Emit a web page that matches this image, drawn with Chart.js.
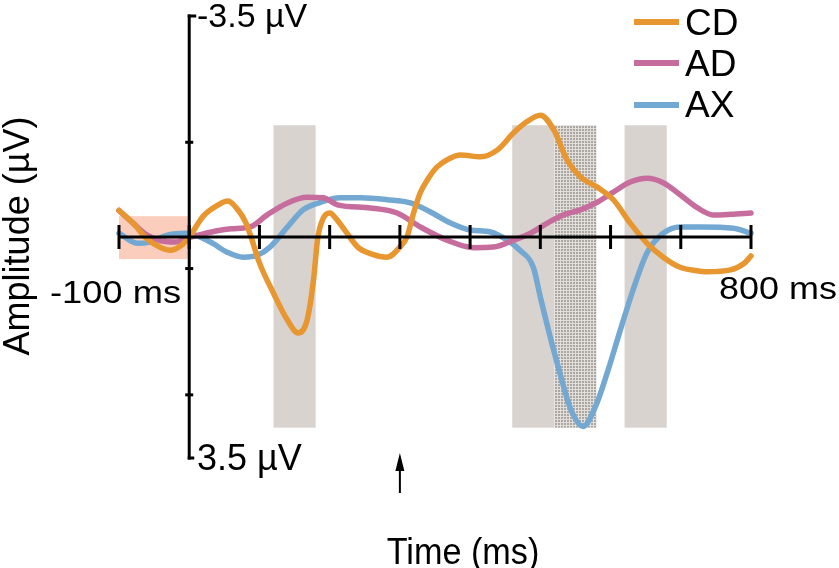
<!DOCTYPE html>
<html>
<head>
<meta charset="utf-8">
<script src="https://cdn.jsdelivr.net/npm/chart.js@4.4.1/dist/chart.umd.min.js"></script>
<style>
  html,body{margin:0;padding:0;background:#fff;}
  #wrap{width:839px;height:568px;position:relative;}
</style>
</head>
<body>
<div id="wrap"><canvas id="c"></canvas></div>
<script>
// ---- data (µV, negative plotted upward) ----
const cdTimes = [-100,-80,-60,-40,-27,-12,0,20,40,55,70,80,88,100,120,140,155,168,177,183,191,200,210,222,240,260,282,300,310,320,329,340,353,370,386,415,439,462,480,500,519,538,557,581,604,628,652,675,699,720,738,771,790,800];
const cdValues = [-0.42,-0.22,0.03,0.17,0.21,0.14,0.0,-0.33,-0.50,-0.57,-0.42,-0.24,0.0,0.41,0.89,1.32,1.52,1.31,0.68,0.02,-0.30,-0.38,-0.28,-0.10,0.16,0.27,0.32,0.16,0.0,-0.40,-0.70,-0.92,-1.11,-1.24,-1.30,-1.27,-1.38,-1.65,-1.82,-1.93,-1.70,-1.22,-0.95,-0.79,-0.59,-0.22,0.10,0.32,0.48,0.53,0.55,0.52,0.42,0.30];

const adTimes = [-100,-80,-60,-40,-20,0,20,40,60,87,111,140,168,191,211,258,296,329,367,405,433,462,486,510,533,557,581,604,628,652,675,699,724,746,771,800];
const adValues = [-0.42,-0.22,-0.03,0.06,0.08,0.01,-0.05,-0.10,-0.13,-0.16,-0.35,-0.54,-0.63,-0.62,-0.51,-0.46,-0.38,-0.16,0.05,0.17,0.16,0.05,-0.06,-0.22,-0.35,-0.43,-0.55,-0.71,-0.87,-0.93,-0.86,-0.67,-0.46,-0.35,-0.36,-0.38];

const axTimes = [-100,-74,-56,-31,-3,30,54,77,97,115,140,162,187,215,244,282,315,343,372,400,429,453,471,490,500,514,528,543,561,578,595,614,632,652,675,699,728,775,800];
const axValues = [-0.06,0.10,0.08,-0.03,-0.06,0.08,0.24,0.32,0.29,0.16,-0.16,-0.43,-0.55,-0.62,-0.62,-0.59,-0.54,-0.40,-0.22,-0.11,-0.08,0.05,0.21,0.48,0.95,1.58,2.16,2.72,3.00,2.70,2.16,1.47,0.84,0.25,-0.06,-0.16,-0.16,-0.14,-0.06];

const seriesLabels = ['CD','AD','AX'];
const xTickValues = [-100,0,100,200,300,400,500,600,700,800];
const yTickValues = [-1.5,0.5,2.5];
const yTopLabel = '-3.5 µV';
const yBottomLabel = '3.5 µV';
const xLeftLabel = '-100 ms';
const xRightLabel = '800 ms';
const xTitle = 'Time (ms)';
const yTitle = 'Amplitude (µV)';
const grayWindows = [[120,180],[460,520],[620,680]];
const dottedWindow = [520,580];
const windowAmp = [-1.77,3.02];
const baselineWindow = [-100,0];
const baselineAmp = [-0.33,0.35];
const stimulusTime = 300;

const colors = ['#e8962f','#c66d9d','#72a8d2'];

function toPts(ts, vs){ return ts.map((t,i)=>({x:t,y:vs[i]})); }

const FONT = '"Liberation Sans", Arial, Helvetica, sans-serif';

function makePattern(ctx){
  const p = document.createElement('canvas');
  p.width = 3; p.height = 3;
  const g = p.getContext('2d');
  g.fillStyle = '#e2deda'; g.fillRect(0,0,3,3);
  g.fillStyle = '#aba6a1'; g.fillRect(0,0,2,2);
  return ctx.createPattern(p,'repeat');
}

const decor = {
  id:'decor',
  beforeDatasetsDraw(chart){
    const ctx = chart.ctx, xs = chart.scales.x, ys = chart.scales.y;
    ctx.save();
    ctx.fillStyle = '#fbcdbd';
    let x0 = xs.getPixelForValue(baselineWindow[0]), x1 = xs.getPixelForValue(baselineWindow[1]);
    let y0 = ys.getPixelForValue(baselineAmp[0]), y1 = ys.getPixelForValue(baselineAmp[1]);
    ctx.fillRect(x0, y0, x1-x0, y1-y0);
    ctx.fillStyle = '#d8d3ce';
    const wy0 = ys.getPixelForValue(windowAmp[0]), wy1 = ys.getPixelForValue(windowAmp[1]);
    grayWindows.forEach(w=>{
      const a = xs.getPixelForValue(w[0]), b = xs.getPixelForValue(w[1]);
      ctx.fillRect(a, wy0, b-a, wy1-wy0);
    });
    ctx.fillStyle = makePattern(ctx);
    const da = xs.getPixelForValue(dottedWindow[0]), db = xs.getPixelForValue(dottedWindow[1]);
    ctx.fillRect(da, wy0, db-da, wy1-wy0);
    ctx.restore();
  },
  afterDatasetsDraw(chart){
    const ctx = chart.ctx, xs = chart.scales.x, ys = chart.scales.y;
    ctx.save();
    ctx.strokeStyle = '#000'; ctx.fillStyle = '#000';
    ctx.lineWidth = 3; ctx.lineCap = 'butt';
    const zy = ys.getPixelForValue(0), zx = xs.getPixelForValue(0);
    ctx.beginPath();
    ctx.moveTo(xs.getPixelForValue(xTickValues[0]), zy);
    ctx.lineTo(xs.getPixelForValue(xTickValues[xTickValues.length-1]), zy);
    ctx.stroke();
    xTickValues.forEach(t=>{
      const px = xs.getPixelForValue(t);
      ctx.beginPath(); ctx.moveTo(px, zy-12); ctx.lineTo(px, zy+12); ctx.stroke();
    });
    const yt = ys.getPixelForValue(-3.5), yb = ys.getPixelForValue(3.5);
    ctx.beginPath(); ctx.moveTo(zx, yt-1.5); ctx.lineTo(zx, yb+1.5); ctx.stroke();
    ctx.beginPath(); ctx.moveTo(zx-1.5, yt); ctx.lineTo(zx+7, yt); ctx.stroke();
    ctx.beginPath(); ctx.moveTo(zx-1.5, yb); ctx.lineTo(zx+5, yb); ctx.stroke();
    yTickValues.forEach(v=>{
      const py = ys.getPixelForValue(v);
      ctx.beginPath(); ctx.moveTo(zx-4, py); ctx.lineTo(zx+4, py); ctx.stroke();
    });
    const ax = xs.getPixelForValue(stimulusTime);
    ctx.lineWidth = 2;
    ctx.beginPath(); ctx.moveTo(ax, 493); ctx.lineTo(ax, 465); ctx.stroke();
    ctx.beginPath(); ctx.moveTo(ax, 453); ctx.lineTo(ax-4.5, 471); ctx.lineTo(ax+4.5, 471); ctx.closePath(); ctx.fill();
    ctx.textBaseline = 'alphabetic';
    ctx.textAlign = 'left';
    ctx.font = '34px ' + FONT;
    ctx.fillText(yTopLabel, 197, 27);
    ctx.font = '36px ' + FONT;
    ctx.fillText(yBottomLabel, 197, 470);
    ctx.font = '31px ' + FONT;
    ctx.save(); ctx.translate(50, 303); ctx.scale(1.17,1); ctx.fillText(xLeftLabel,0,0); ctx.restore();
    ctx.save(); ctx.translate(719, 299); ctx.scale(1.16,1); ctx.fillText(xRightLabel,0,0); ctx.restore();
    ctx.font = '36px ' + FONT;
    ctx.save(); ctx.translate(463, 564); ctx.scale(0.95,1); ctx.textAlign='center'; ctx.fillText(xTitle,0,0); ctx.restore();
    ctx.save(); ctx.translate(29, 236); ctx.rotate(-Math.PI/2); ctx.textAlign='center'; ctx.fillText(yTitle,0,0); ctx.restore();
    const ly = [22, 63, 105], lb = [35, 76, 117];
    ctx.font = '37px ' + FONT;
    chart.data.datasets.forEach((ds,i)=>{
      ctx.strokeStyle = ds.borderColor; ctx.lineWidth = 6;
      ctx.beginPath(); ctx.moveTo(634, ly[i]); ctx.lineTo(679, ly[i]); ctx.stroke();
      ctx.fillStyle = '#000';
      ctx.fillText(ds.label, 685, lb[i]);
    });
    ctx.restore();
  }
};

const chart = new Chart(document.getElementById('c'), {
  type:'line',
  data:{
    datasets:[
      {label:seriesLabels[0], data:toPts(cdTimes,cdValues), borderColor:colors[0]},
      {label:seriesLabels[1], data:toPts(adTimes,adValues), borderColor:colors[1]},
      {label:seriesLabels[2], data:toPts(axTimes,axValues), borderColor:colors[2]}
    ].map(d=>Object.assign(d,{borderWidth:5.5, pointRadius:0, fill:false, cubicInterpolationMode:'monotone', borderJoinStyle:'round', borderCapStyle:'round', clip:10}))
  },
  options:{
    responsive:true, maintainAspectRatio:false, animation:false,
    layout:{padding:{left:119, right:88, top:16, bottom:110}},
    scales:{
      x:{type:'linear', min:-100, max:800, display:false},
      y:{min:-3.5, max:3.5, reverse:true, display:false}
    },
    plugins:{legend:{display:false}, tooltip:{enabled:false}}
  },
  plugins:[decor]
});
</script>
</body>
</html>
